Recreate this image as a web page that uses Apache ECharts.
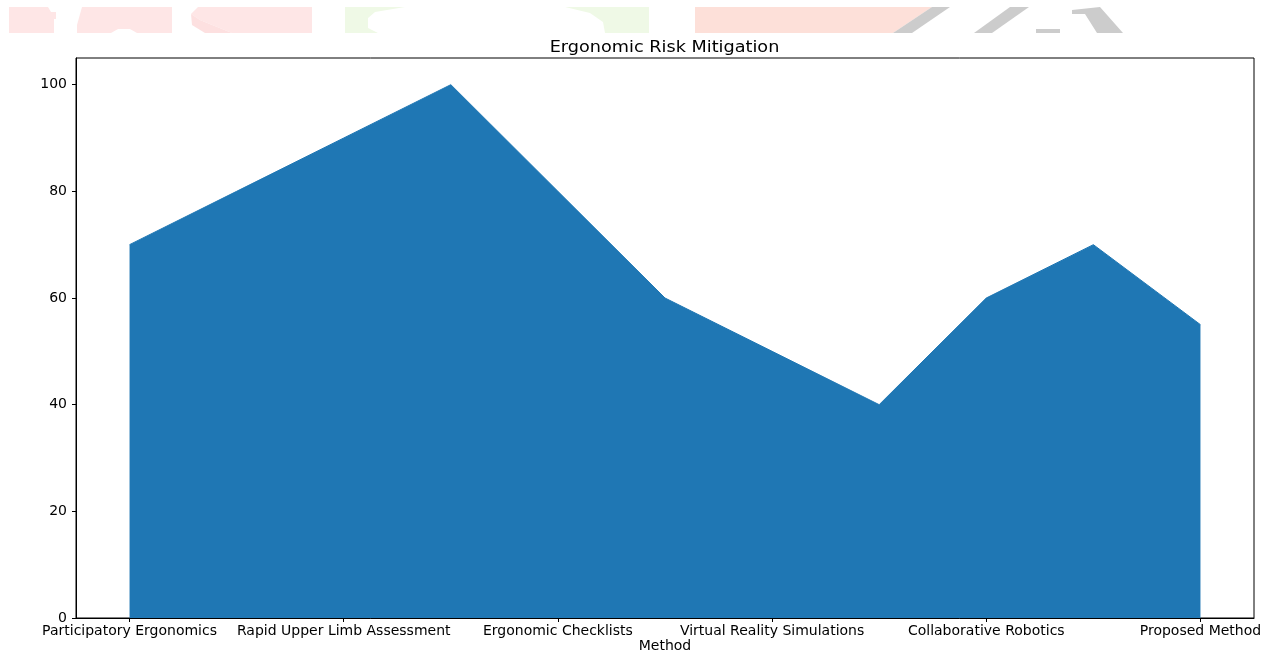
<!DOCTYPE html>
<html>
<head>
<meta charset="utf-8">
<script src="https://cdn.jsdelivr.net/npm/echarts@6/dist/echarts.min.js"></script>
<style>html,body{margin:0;padding:0;background:#fff}#c{width:1265px;height:654px}</style>
</head>
<body>
<div id="c"></div>
<script>
var categories = ['Participatory Ergonomics', '', 'Rapid Upper Limb Assessment', '', 'Ergonomic Checklists', '', 'Virtual Reality Simulations', '', 'Collaborative Robotics', '', 'Proposed Method'];
var values = [70, 80, 90, 100, 80, 60, 50, 40, 60, 70, 55];
var yTicks = [0, 20, 40, 60, 80, 100];
var titleText = 'Ergonomic Risk Mitigation';
var xName = 'Method';

var font = 'DejaVu Sans';
var chart = echarts.init(document.getElementById('c'), null, {renderer: 'canvas'});
function poly(points, color) {
  return {type: 'polygon', shape: {points: points}, style: {fill: color}, silent: true};
}
chart.setOption({
  animation: false,
  backgroundColor: '#fff',
  graphic: [
    poly([[9,7],[48,7],[51,12],[56,12],[56,19],[54,19],[54,33],[9,33]], '#fee6e6'),
    poly([[82,7],[172,7],[172,33],[137,33],[130,29],[118,29],[111,33],[77,33],[77,25]], '#fee6e6'),
    poly([[198,7],[312,7],[312,33],[232,33],[200,20],[191,14]], '#fee6e6'),
    poly([[191,14],[200,20],[232,33],[205,33],[192,25]], '#fde0e0'),
    poly([[345,7],[405,7],[375,12],[368,18],[368,28],[378,33],[345,33]], '#eff9e6'),
    poly([[565,7],[649,7],[649,33],[605,33],[603,22],[590,13]], '#eff9e6'),
    poly([[695,7],[932,7],[893,33],[695,33]], '#fde0d9'),
    poly([[932,7],[950,7],[912,33],[893,33]], '#cccccc'),
    poly([[1010,7],[1029,7],[992,33],[974,33]], '#cccccc'),
    poly([[1036,29],[1060,29],[1060,33],[1036,33]], '#cccccc'),
    poly([[1072,10],[1100,7],[1123,33],[1097,33],[1085,14],[1072,14]], '#cccccc'),
    {type: 'text', x: 664.5, y: 47.5, scaleX: 1.14, scaleY: 1, originX: 0, originY: 0,
      style: {text: titleText, font: '15.5px "DejaVu Sans"', fill: '#000', textAlign: 'center', textVerticalAlign: 'middle'}, silent: true}
  ],
  grid: {left: 76, right: 11, top: 58, bottom: 36, show: true, borderColor: '#000', borderWidth: 1, backgroundColor: 'transparent', outerBoundsMode: 'none', containLabel: false},
  xAxis: {
    type: 'category',
    data: categories,
    boundaryGap: true,
    name: xName,
    nameLocation: 'middle',
    nameGap: 21,
    nameMoveOverlap: false,
    nameTextStyle: {fontFamily: font, fontSize: 14, color: '#000'},
    axisLine: {lineStyle: {color: '#000', width: 1}},
    axisTick: {show: true, inside: false, length: 4, alignWithLabel: true, interval: function (i) { return i % 2 === 0; }, lineStyle: {color: '#000'}},
    axisLabel: {interval: 0, margin: 6, fontFamily: font, fontSize: 14, color: '#000'},
    splitLine: {show: false}
  },
  yAxis: {
    type: 'value',
    min: 0,
    max: 105,
    interval: 20,
    axisLine: {show: true, lineStyle: {color: '#000', width: 1}},
    axisTick: {show: true, inside: false, length: 4, customValues: yTicks, lineStyle: {color: '#000'}},
    axisLabel: {margin: 9, fontFamily: font, fontSize: 14, color: '#000', customValues: yTicks},
    splitLine: {show: false}
  },
  series: [{
    type: 'line',
    data: values,
    symbol: 'none',
    lineStyle: {color: '#1f77b4', width: 1},
    itemStyle: {color: '#1f77b4'},
    areaStyle: {color: '#1f77b4', opacity: 1},
    z: 1
  }]
});
</script>
</body>
</html>
